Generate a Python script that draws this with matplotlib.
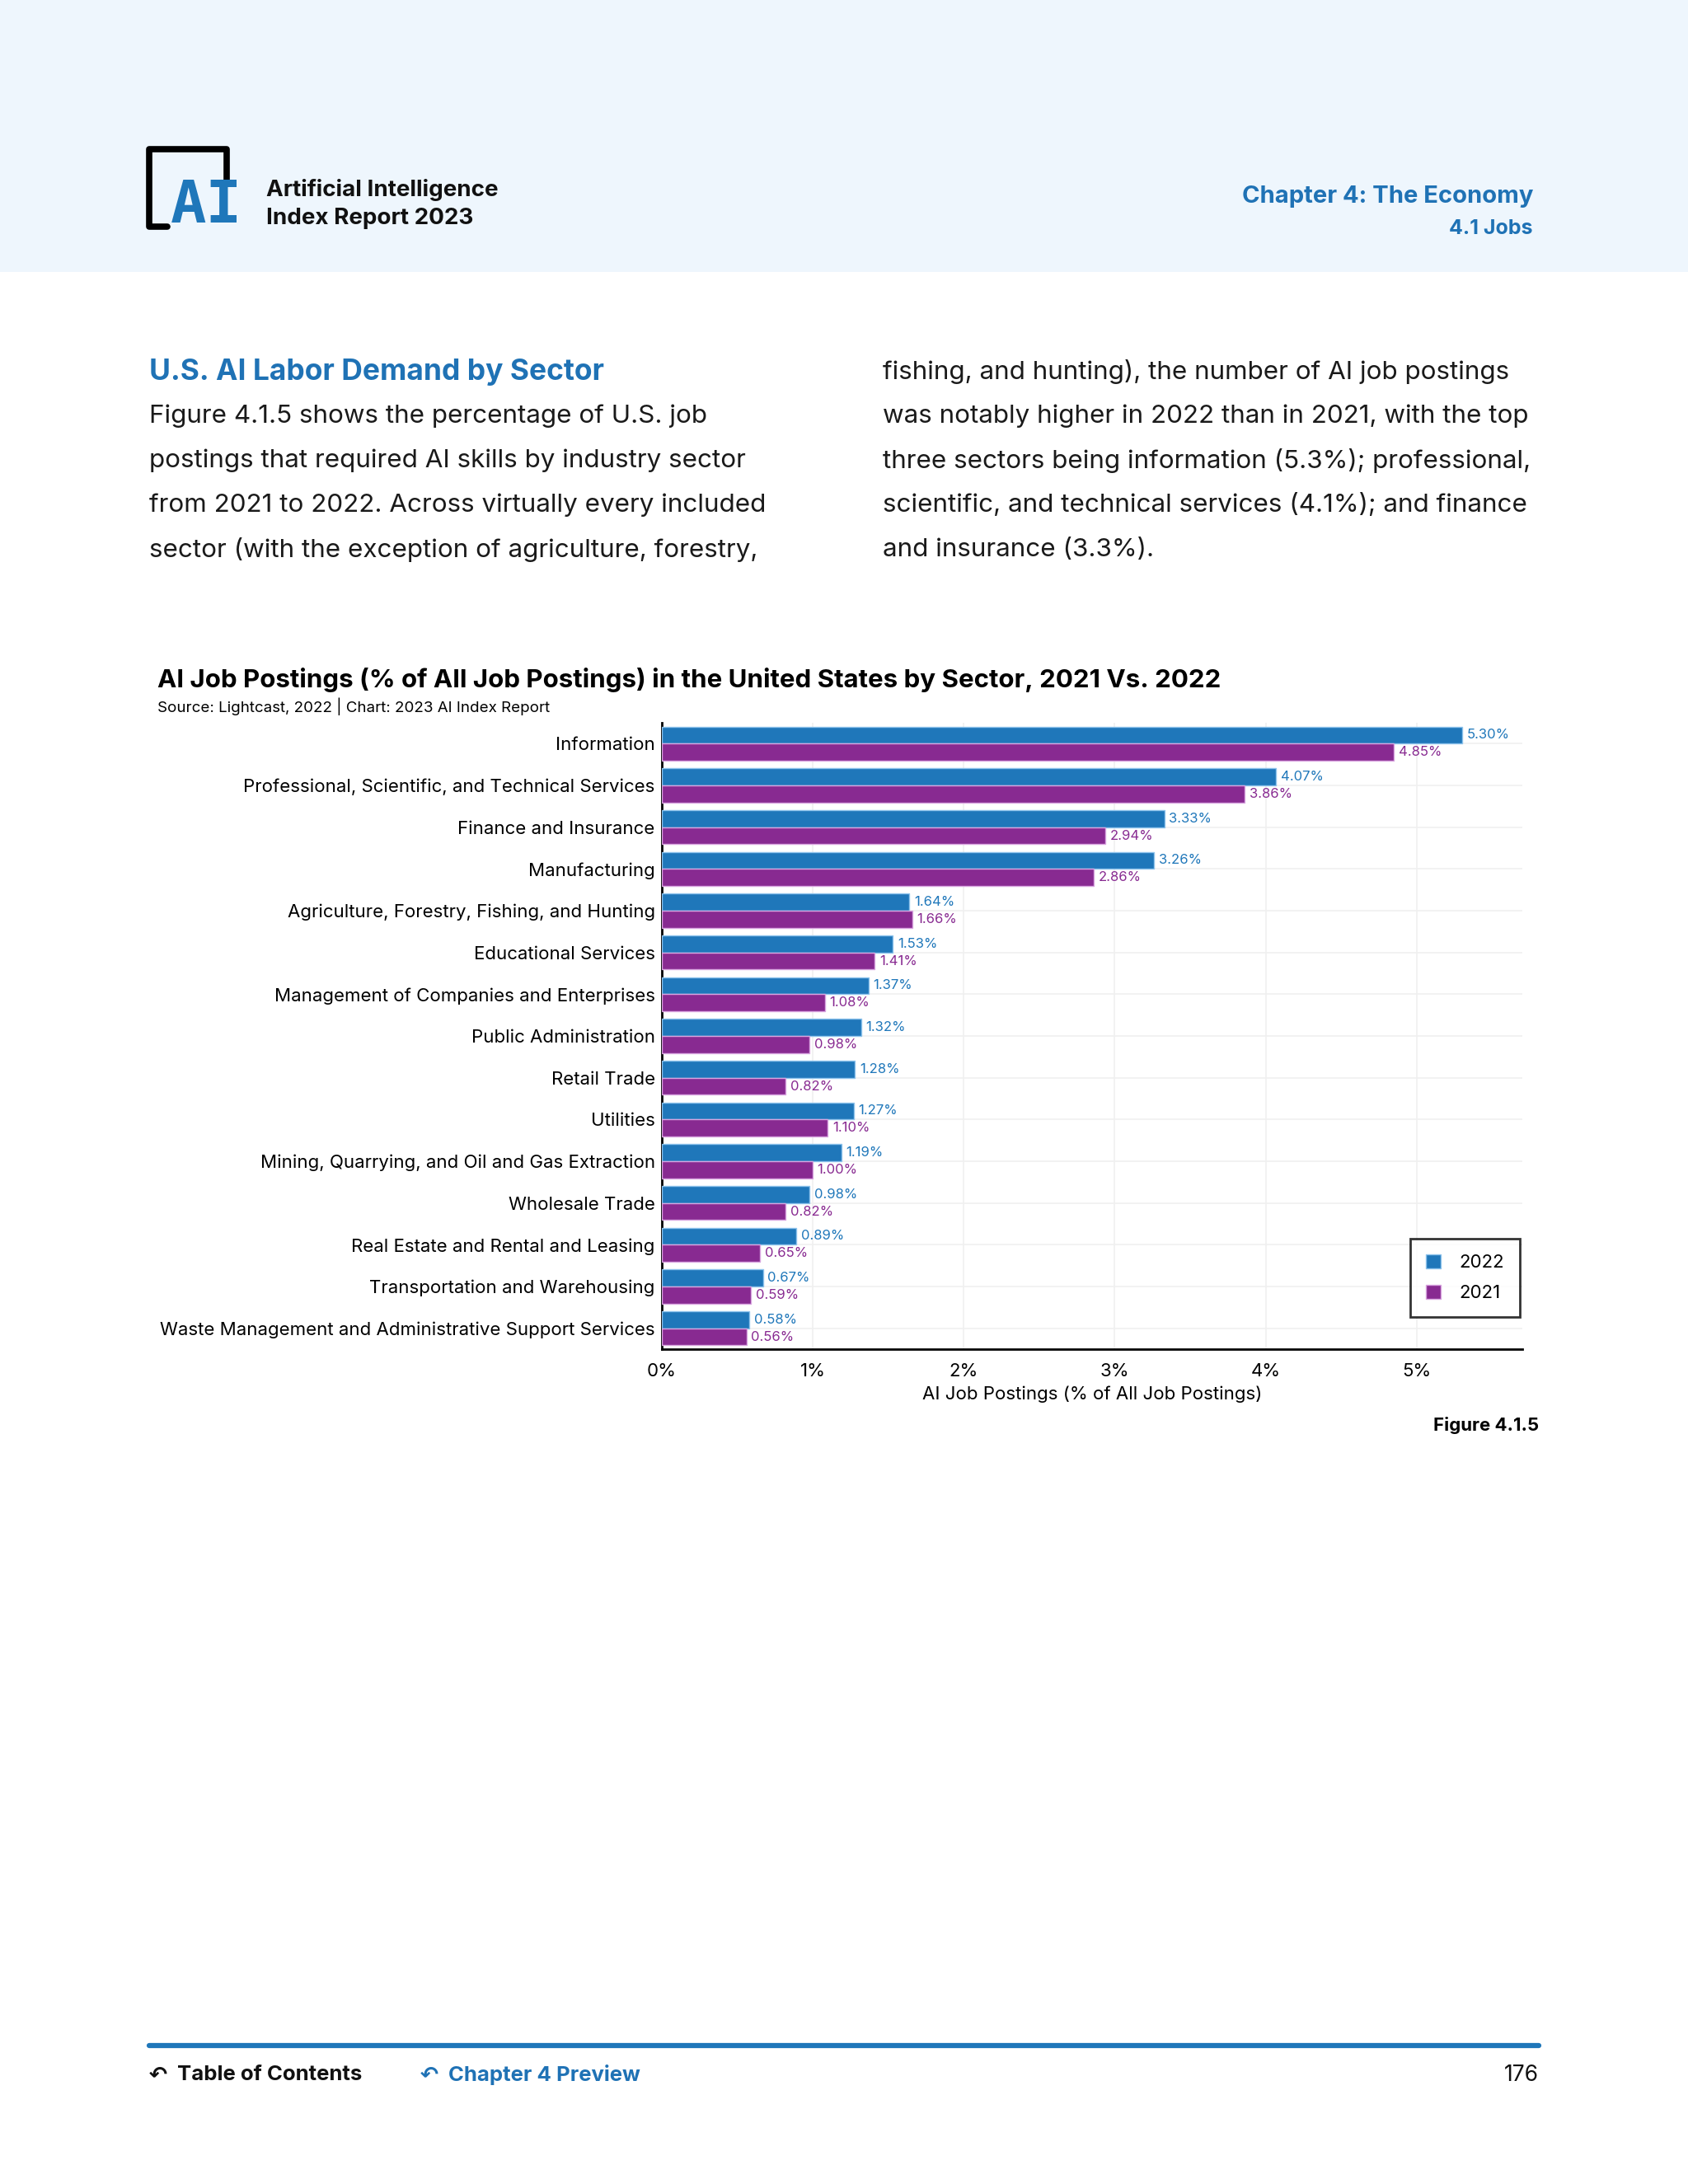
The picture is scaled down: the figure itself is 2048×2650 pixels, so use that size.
import numpy as np
import matplotlib.pyplot as plt
from matplotlib.patches import Rectangle
from matplotlib.lines import Line2D

plt.rcParams['font.family'] = ['Inter', 'DejaVu Sans']

sectors = ['Information',
           'Professional, Scientific, and Technical Services',
           'Finance and Insurance',
           'Manufacturing',
           'Agriculture, Forestry, Fishing, and Hunting',
           'Educational Services',
           'Management of Companies and Enterprises',
           'Public Administration',
           'Retail Trade',
           'Utilities',
           'Mining, Quarrying, and Oil and Gas Extraction',
           'Wholesale Trade',
           'Real Estate and Rental and Leasing',
           'Transportation and Warehousing',
           'Waste Management and Administrative Support Services']
v2022 = [5.30, 4.07, 3.33, 3.26, 1.64, 1.53, 1.37, 1.32, 1.28, 1.27, 1.19, 0.98, 0.89, 0.67, 0.58]
v2021 = [4.85, 3.86, 2.94, 2.86, 1.66, 1.41, 1.08, 0.98, 0.82, 1.10, 1.00, 0.82, 0.65, 0.59, 0.56]
xticks = [0, 1, 2, 3, 4, 5]

W, H = 2048, 2650
BLUE = '#1F77BA'
PURPLE = '#882A91'
HEAD_BLUE = '#1F72B5'

fig = plt.figure(figsize=(W / 100, H / 100), dpi=100)

def fx(x):
    return x / W

def fy(y):
    return 1 - y / H

# header band
fig.patches.append(Rectangle((0, fy(330)), 1, 330 / H, transform=fig.transFigure,
                             facecolor='#EEF6FD', edgecolor='none', zorder=0))

# logo
lx = [fx(203), fx(181), fx(181), fx(275), fx(275)]
ly = [fy(275), fy(275), fy(181), fy(181), fy(221)]
fig.add_artist(Line2D(lx, ly, transform=fig.transFigure, color='black', lw=5.5,
                      solid_joinstyle='round', solid_capstyle='round'))
fig.text(fx(250), fy(251), 'AI', color=BLUE, fontsize=52, fontweight='bold',
         family='DejaVu Sans Mono', ha='center', va='center')

fig.text(fx(323), fy(230), 'Artificial Intelligence', fontsize=20, fontweight='bold',
         ha='left', va='center', color='#111111')
fig.text(fx(323), fy(265), 'Index Report 2023', fontsize=20, fontweight='bold',
         ha='left', va='center', color='#111111')
fig.text(fx(1860), fy(238), 'Chapter 4: The Economy', fontsize=21, fontweight='bold',
         ha='right', va='center', color=HEAD_BLUE)
fig.text(fx(1860), fy(277), '4.1 Jobs', fontsize=18, fontweight='bold',
         ha='right', va='center', color=HEAD_BLUE)

# section text
fig.text(fx(181), fy(451), 'U.S. AI Labor Demand by Sector', fontsize=25.5, fontweight='bold',
         ha='left', va='center', color=HEAD_BLUE)
left_lines = ['Figure 4.1.5 shows the percentage of U.S. job',
              'postings that required AI skills by industry sector',
              'from 2021 to 2022. Across virtually every included',
              'sector (with the exception of agriculture, forestry,']
right_lines = ['fishing, and hunting), the number of AI job postings',
               'was notably higher in 2022 than in 2021, with the top',
               'three sectors being information (5.3%); professional,',
               'scientific, and technical services (4.1%); and finance',
               'and insurance (3.3%).']
for i, t in enumerate(left_lines):
    fig.text(fx(181), fy(505 + 54 * i), t, fontsize=22.6, ha='left', va='center', color='#1a1a1a')
for i, t in enumerate(right_lines):
    fig.text(fx(1071), fy(451 + 54 * i), t, fontsize=22.6, ha='left', va='center', color='#1a1a1a')

# chart title
fig.text(fx(191), fy(825), 'AI Job Postings (% of All Job Postings) in the United States by Sector, 2021 Vs. 2022',
         fontsize=22.5, fontweight='bold', ha='left', va='center', color='black')
fig.text(fx(191), fy(857), 'Source: Lightcast, 2022 | Chart: 2023 AI Index Report',
         fontsize=13.5, ha='left', va='center', color='black')

# chart
ax = fig.add_axes([fx(803), fy(1637), (1847 - 803) / W, (1637 - 877) / H])
y = np.arange(len(sectors))
h = 0.41
ax.barh(y - h / 2, v2022, height=h, color=BLUE, edgecolor='#8EC3EC', linewidth=1.0, label='2022', zorder=3)
ax.barh(y + h / 2, v2021, height=h, color=PURPLE, edgecolor='#D9A5E0', linewidth=1.0, label='2021', zorder=3)
for i in range(len(sectors)):
    ax.annotate(f'{v2022[i]:.2f}%', (v2022[i], y[i] - h / 2), xytext=(4, 0), textcoords='offset points',
                ha='left', va='center', fontsize=12, color=BLUE)
    ax.annotate(f'{v2021[i]:.2f}%', (v2021[i], y[i] + h / 2), xytext=(4, 0), textcoords='offset points',
                ha='left', va='center', fontsize=12, color=PURPLE)

ax.set_xlim(0, 5.7)
ax.set_ylim(len(sectors) - 0.5, -0.5)
ax.set_yticks(y)
ax.set_yticklabels(sectors, fontsize=16)
ax.set_xticks(xticks)
ax.set_xticklabels([f'{t}%' for t in xticks], fontsize=16)
ax.tick_params(axis='both', length=0)
ax.tick_params(axis='y', pad=6)
ax.tick_params(axis='x', pad=12)
ax.set_xlabel('AI Job Postings (% of All Job Postings)', fontsize=16, labelpad=6)
ax.grid(True, color='#F0F0F0', linewidth=1.2, zorder=0)
ax.set_axisbelow(True)
for s in ['top', 'right']:
    ax.spines[s].set_visible(False)
for s in ['left', 'bottom']:
    ax.spines[s].set_linewidth(2)
    ax.spines[s].set_color('black')

leg = ax.legend(loc='lower right', bbox_to_anchor=(0.997, 0.051), fontsize=16, frameon=True,
                fancybox=False, edgecolor='black', handlelength=0.8, handleheight=0.8,
                handletextpad=1.0, borderpad=0.85, labelspacing=0.75, borderaxespad=0)
leg.get_frame().set_linewidth(2)

fig.text(fx(1867), fy(1730), 'Figure 4.1.5', fontsize=16, fontweight='bold', ha='right', va='center')

# footer
fig.add_artist(Line2D([fx(181), fx(1867)], [fy(2482), fy(2482)], transform=fig.transFigure,
                      color=BLUE, lw=4.5, solid_capstyle='round'))
fig.text(fx(181), fy(2518), '\u21b6', fontsize=19, fontweight='bold', family='DejaVu Sans',
         ha='left', va='center', color='#111111')
fig.text(fx(215), fy(2518), 'Table of Contents', fontsize=18.5, fontweight='bold',
         ha='left', va='center', color='#111111')
fig.text(fx(510), fy(2518), '\u21b6', fontsize=19, fontweight='bold', family='DejaVu Sans',
         ha='left', va='center', color=HEAD_BLUE)
fig.text(fx(544), fy(2518), 'Chapter 4 Preview', fontsize=18.5, fontweight='bold',
         ha='left', va='center', color=HEAD_BLUE)
fig.text(fx(1867), fy(2518), '176', fontsize=19, ha='right', va='center', color='#111111')

fig.savefig('out.png', dpi=100, facecolor='white')
